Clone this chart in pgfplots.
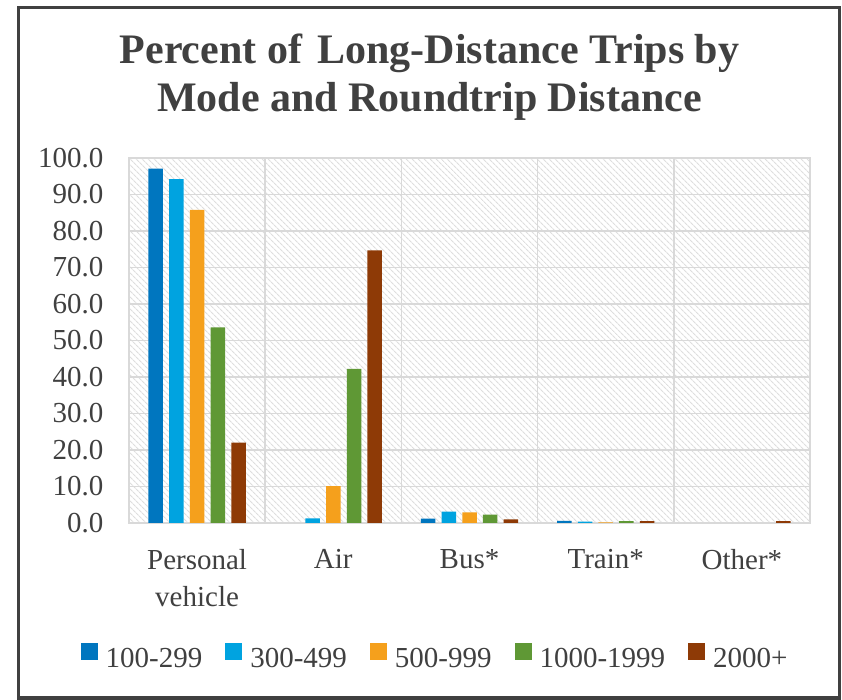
\documentclass[border=0pt]{standalone}
\usepackage{fontspec}
\setmainfont{Liberation Serif}
\usepackage{pgfplots}
\pgfplotsset{compat=1.18}
\usetikzlibrary{patterns.meta}
\definecolor{c1}{HTML}{0076BF}
\definecolor{c2}{HTML}{00A3E0}
\definecolor{c3}{HTML}{F5A01C}
\definecolor{c4}{HTML}{5F9835}
\definecolor{c5}{HTML}{8E3A06}
\definecolor{gridc}{HTML}{D9D9D9}
\definecolor{txt}{HTML}{404040}
\definecolor{framec}{HTML}{404040}
\begin{document}
\begin{tikzpicture}[x=1pt,y=1pt]
\useasboundingbox (0,0) rectangle (842,700);
\fill[white] (0,0) rectangle (842,700);
\draw[line width=3.5pt, framec] (18.5,2) rectangle (839.5,692.5);
\node[anchor=base, font=\fontsize{42}{48}\selectfont\rmfamily\bfseries, text=txt] at (429.5,636) {Percent of\hspace{0.12em} Long-Distance Trips by};
\node[anchor=base, font=\fontsize{42}{48}\selectfont\rmfamily\bfseries, text=txt] at (429.5,588) {Mode and Roundtrip Distance};
\begin{axis}[
  at={(129pt,177pt)}, anchor=south west,
  scale only axis, width=681pt, height=365pt,
  xmin=-0.5, xmax=4.5, ymin=0, ymax=100,
  ybar=6.2pt, bar width=14.5pt,
  xtick={0,1,2,3,4},
  xticklabels={Personal\\vehicle, Air, Bus*, Train*, Other*},
  minor xtick={0.5,1.5,2.5,3.5},
  xminorgrids=true, ymajorgrids=true,
  ytick={0,10,...,100},
  major tick length=0pt, minor tick length=0pt,
  grid style={draw=gridc, line width=1.5pt},
  minor grid style={draw=gridc, line width=1.5pt},
  axis line style={draw=gridc, line width=1.5pt},
  axis background/.style={pattern={Lines[angle=-45,distance=4pt,line width=1.2pt]}, pattern color=gray!26},
  yticklabel style={font=\fontsize{29}{35}\selectfont\rmfamily, text=txt, xshift=-22pt},
  xticklabel style={font=\fontsize{29}{37}\selectfont\rmfamily, text=txt, align=center, yshift=-23pt},
  /pgf/number format/.cd, fixed, fixed zerofill, precision=1, assume math mode=true,
  /pgfplots/.cd,
  legend image code/.code={\fill[#1] (0pt,-1pt) rectangle (17pt,16pt);},
  legend columns=5,
  legend style={at={(0.448,-0.367)}, anchor=center, draw=none, fill=none,
    font=\fontsize{29}{35}\selectfont\rmfamily, text=txt,
    nodes={inner xsep=0pt, inner ysep=2pt, font=\fontsize{29}{35}\selectfont\rmfamily},
    /tikz/every odd column/.append style={column sep=8pt},
    /tikz/every even column/.append style={column sep=23pt}},
]
\addplot[fill=c1, draw=none] coordinates {(0,97.1) (2,1.2) (3,0.6)};
\addplot[fill=c2, draw=none] coordinates {(0,94.2) (1,1.3) (2,3.1) (3,0.4)};
\addplot[fill=c3, draw=none] coordinates {(0,85.8) (1,10.1) (2,2.9) (3,0.2)};
\addplot[fill=c4, draw=none] coordinates {(0,53.6) (1,42.2) (2,2.3) (3,0.5)};
\addplot[fill=c5, draw=none] coordinates {(0,22.0) (1,74.7) (2,1.0) (3,0.5) (4,0.5)};
\legend{100-299, 300-499, 500-999, 1000-1999, 2000+}
\end{axis}
\end{tikzpicture}
\end{document}
